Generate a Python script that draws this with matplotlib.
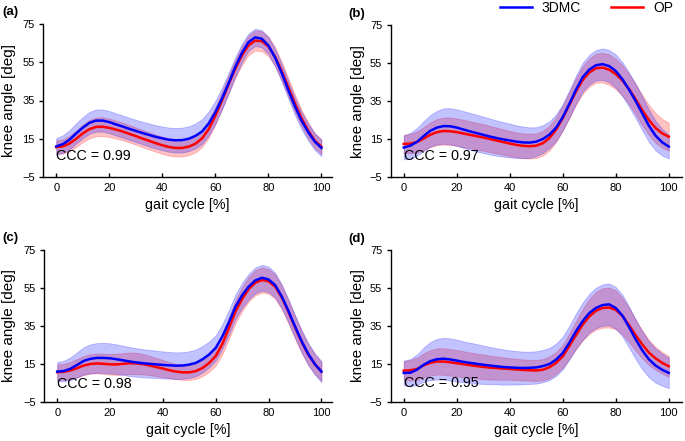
import numpy as np
import matplotlib
matplotlib.use("Agg")
import matplotlib.pyplot as plt

plt.rcParams['font.family'] = ['Liberation Sans', 'DejaVu Sans']

# gait cycle grid [%]
gait = [0, 2.5, 5, 7.5, 10, 12.5, 15, 17.5, 20, 22.5, 25, 27.5, 30, 32.5, 35, 37.5,
        40, 42.5, 45, 47.5, 50, 52.5, 55, 57.5, 60, 62.5, 65, 67.5, 70, 72.5, 75,
        77.5, 80, 82.5, 85, 87.5, 90, 92.5, 95, 97.5, 100]

panel_labels = ["(a)", "(b)", "(c)", "(d)"]
ccc_values = ["0.99", "0.97", "0.98", "0.95"]
series_names = ["3DMC", "OP"]
y_ticks = [-5, 15, 35, 55, 75]
x_ticks = [0, 20, 40, 60, 80, 100]

# (a)
a_3dmc = [11.0, 12.2, 14.5, 17.8, 20.8, 23.3, 24.5, 24.5, 23.7, 22.5, 21.4, 20.2, 19.1, 18.0, 17.0, 16.0,
          15.2, 14.5, 14.2, 14.3, 15.0, 16.5, 18.8, 23.0, 28.8, 36.0, 44.0, 52.5, 59.8, 65.5, 68.0,
          67.3, 63.8, 57.5, 49.5, 40.5, 32.0, 24.5, 18.5, 13.5, 10.2]
a_op = [10.6, 11.0, 12.5, 15.0, 17.8, 20.0, 21.2, 21.3, 20.7, 19.8, 18.8, 17.6, 16.4, 15.1, 13.9, 12.7,
        11.6, 10.7, 10.2, 10.2, 10.9, 12.4, 15.2, 20.0, 27.0, 35.0, 43.5, 51.5, 58.5, 63.8, 66.3,
        66.0, 63.3, 58.0, 50.5, 42.0, 33.5, 25.8, 19.3, 14.0, 10.8]
a_3dmc_sd = [4.3, 4.6, 5.0, 5.3, 5.5, 5.7, 5.8, 5.8, 5.8, 5.8, 5.8, 5.8, 5.8, 5.9, 6.0, 6.1,
             6.2, 6.3, 6.4, 6.5, 6.5, 6.5, 6.5, 6.3, 6.0, 5.7, 5.4, 5.1, 4.8, 4.6, 4.5,
             4.5, 4.5, 4.5, 4.5, 4.5, 4.5, 4.5, 4.5, 4.4, 4.3]
a_op_sd = [3.5, 3.7, 4.0, 4.3, 4.6, 4.8, 4.9, 4.9, 4.8, 4.7, 4.6, 4.5, 4.5, 4.5, 4.5, 4.5,
           4.5, 4.5, 4.5, 4.5, 4.5, 4.5, 4.5, 4.5, 4.5, 4.6, 4.7, 4.8, 5.0, 5.1, 5.2,
           5.2, 5.1, 5.0, 4.9, 4.7, 4.5, 4.3, 4.1, 3.9, 3.8]

# (b)
b_3dmc = [10.5, 11.5, 13.5, 16.5, 19.3, 21.0, 21.8, 21.7, 21.0, 20.0, 19.0, 18.1, 17.2, 16.3, 15.5, 14.8,
          14.2, 13.6, 13.2, 13.1, 13.6, 15.0, 17.3, 21.0, 26.5, 33.5, 41.0, 47.5, 51.5, 53.8, 54.4,
          53.4, 50.8, 46.5, 41.0, 35.0, 28.5, 22.0, 16.8, 13.3, 11.0]
b_op = [12.4, 12.6, 13.4, 15.2, 17.2, 18.6, 19.2, 19.1, 18.6, 17.9, 17.2, 16.5, 15.8, 15.0, 14.2, 13.4,
        12.6, 11.9, 11.4, 11.2, 11.5, 12.8, 15.5, 20.0, 26.0, 33.0, 40.0, 46.0, 50.0, 52.2, 52.6,
        51.5, 49.2, 45.8, 41.3, 36.0, 30.2, 25.0, 20.8, 18.0, 16.2]
b_3dmc_sd = [6.3, 6.8, 7.3, 7.8, 8.3, 8.8, 9.3, 9.5, 9.6, 9.7, 9.7, 9.7, 9.6, 9.5, 9.3, 9.1,
             8.9, 8.6, 8.3, 8.0, 7.6, 7.3, 7.0, 7.0, 7.0, 7.2, 7.4, 7.6, 7.8, 8.0, 8.3,
             8.5, 8.7, 8.9, 9.0, 9.0, 8.9, 8.5, 7.8, 7.0, 6.3]
b_op_sd = [4.8, 5.1, 5.5, 6.0, 6.5, 6.9, 7.1, 7.2, 7.2, 7.2, 7.1, 7.0, 7.0, 6.9, 6.8, 6.7,
           6.6, 6.5, 6.5, 6.5, 6.5, 6.5, 6.5, 6.5, 6.6, 6.8, 7.0, 7.2, 7.4, 7.6, 7.8,
           8.0, 8.0, 8.0, 8.0, 8.0, 8.0, 7.9, 7.8, 7.6, 7.4]

# (c)
c_3dmc = [11.0, 11.3, 12.5, 14.5, 16.6, 17.7, 18.2, 18.2, 18.0, 17.5, 16.9, 16.3, 15.8, 15.4, 15.1, 14.8,
          14.5, 14.3, 14.1, 14.2, 14.7, 15.6, 17.5, 20.0, 23.5, 29.5, 37.0, 45.2, 51.2, 55.8, 59.0,
          60.4, 59.5, 56.5, 50.5, 43.0, 34.8, 27.0, 20.3, 15.0, 11.0]
c_op = [10.7, 10.9, 11.6, 12.8, 14.2, 15.0, 15.3, 15.1, 14.8, 14.8, 15.1, 15.4, 15.3, 14.9, 14.2, 13.4,
        12.6, 11.7, 11.0, 10.6, 10.6, 11.3, 12.9, 15.5, 19.2, 25.5, 34.0, 42.7, 49.2, 54.5, 57.8,
        59.2, 58.5, 55.7, 50.0, 42.5, 34.3, 26.6, 20.0, 14.9, 11.0]
c_3dmc_sd = [5.0, 5.4, 6.0, 6.6, 7.2, 7.6, 7.8, 7.9, 7.9, 7.8, 7.7, 7.6, 7.5, 7.4, 7.3, 7.2,
             7.1, 7.0, 7.0, 7.0, 7.0, 7.0, 7.0, 6.8, 6.6, 6.5, 6.5, 6.5, 6.6, 6.7, 6.8,
             6.8, 6.7, 6.5, 6.3, 6.1, 6.0, 5.9, 5.8, 5.6, 5.5]
c_op_sd = [4.0, 4.2, 4.5, 4.8, 5.0, 5.1, 5.2, 5.3, 5.4, 5.5, 5.6, 5.7, 5.6, 5.4, 5.1, 4.8,
           4.5, 4.2, 4.0, 4.0, 4.0, 4.1, 4.3, 4.6, 5.0, 5.4, 5.8, 6.1, 6.3, 6.5, 6.6,
           6.6, 6.5, 6.4, 6.2, 6.1, 6.0, 5.7, 5.4, 5.2, 5.0]

# (d)
d_3dmc = [10.3, 10.4, 12.0, 14.6, 16.5, 17.5, 17.8, 17.4, 16.8, 16.1, 15.6, 15.1, 14.6, 14.2, 13.8, 13.4,
          13.2, 13.0, 12.9, 13.0, 13.2, 13.9, 15.0, 17.3, 20.8, 26.2, 32.3, 37.5, 41.8, 44.5, 46.0,
          46.4, 44.5, 40.5, 34.5, 28.0, 22.2, 17.5, 14.2, 12.0, 10.3]
d_op = [11.5, 11.7, 12.4, 14.3, 15.6, 16.3, 16.3, 15.9, 15.4, 14.9, 14.4, 13.9, 13.5, 13.1, 12.9, 12.6,
        12.4, 12.1, 11.9, 11.7, 11.6, 12.0, 13.3, 15.6, 19.0, 24.5, 30.2, 35.7, 40.0, 43.0, 44.5,
        44.7, 43.5, 40.3, 35.5, 30.2, 25.3, 21.0, 18.0, 15.6, 13.8]
d_3dmc_sd = [6.5, 7.2, 8.0, 9.0, 10.0, 10.7, 11.0, 11.1, 11.0, 10.8, 10.6, 10.4, 10.1, 9.8, 9.5, 9.3,
             9.0, 8.8, 8.6, 8.5, 8.5, 8.5, 8.5, 8.5, 8.6, 8.9, 9.3, 9.8, 10.2, 10.6, 10.9,
             11.0, 11.0, 11.0, 10.8, 10.4, 10.0, 9.5, 9.0, 8.5, 8.0]
d_op_sd = [5.0, 5.4, 5.9, 6.3, 6.7, 6.9, 7.0, 7.0, 6.9, 6.8, 6.7, 6.6, 6.5, 6.3, 6.1, 5.9,
           5.7, 5.6, 5.5, 5.5, 5.5, 5.6, 5.7, 5.8, 6.0, 6.6, 7.4, 8.3, 9.2, 9.9, 10.4,
           10.5, 10.2, 9.6, 9.0, 8.2, 7.4, 6.6, 6.0, 5.7, 5.5]

panels = [
    (a_3dmc, a_3dmc_sd, a_op, a_op_sd),
    (b_3dmc, b_3dmc_sd, b_op, b_op_sd),
    (c_3dmc, c_3dmc_sd, c_op, c_op_sd),
    (d_3dmc, d_3dmc_sd, d_op, d_op_sd),
]

W, H = 685, 441
fig = plt.figure(figsize=(W / 100, H / 100), dpi=100)

# axes boxes in pixels: left, right, top, bottom
boxes = [(43, 332, 24, 177), (390.5, 682, 25, 177), (44, 332, 250, 402), (390.5, 682, 250, 402)]
xlims = [(-5, 104), (-5, 105), (-5, 104), (-5, 105)]
ccc_y = [6.0, 6.0, 4.6, 4.8]
ylabel_px = [16, 365, 16, 365]   # right edge of the rotated y label
label_pos = [(2, 12), (348, 14), (2, 238), (348, 239)]

blue = '#0000ff'
red = '#ff0000'
x = np.array(gait)

handles = []
for i, (box, (m1, s1, m2, s2)) in enumerate(zip(boxes, panels)):
    l, r, t, b = box
    ax = fig.add_axes([l / W, 1 - b / H, (r - l) / W, (b - t) / H])
    m1, s1, m2, s2 = map(np.array, (m1, s1, m2, s2))
    ax.fill_between(x, m2 - s2, m2 + s2, color=red, alpha=0.24, lw=0.6, edgecolor=(1, 0, 0, 0.25))
    ax.fill_between(x, m1 - s1, m1 + s1, color=blue, alpha=0.24, lw=0.6, edgecolor=(0, 0, 1, 0.25))
    l2, = ax.plot(x, m2, color=red, lw=1.8, zorder=3)
    l1, = ax.plot(x, m1, color=blue, lw=1.8, zorder=4)
    if i == 0:
        handles = [l1, l2]
    ax.set_xlim(*xlims[i])
    ax.set_ylim(-5, 75)
    ax.set_xticks(x_ticks)
    ax.set_yticks(y_ticks)
    for sp in ['top', 'right']:
        ax.spines[sp].set_visible(False)
    for sp in ['left', 'bottom']:
        ax.spines[sp].set_linewidth(1.0)
    ax.tick_params(axis='y', direction='out', length=3, width=1.0, labelsize=8, pad=3)
    ax.tick_params(axis='x', direction='in', length=3, width=1.0, labelsize=8, pad=4)
    ax.set_xlabel('gait cycle [%]', fontsize=10.3, labelpad=4)
    ax.set_ylabel('knee angle [deg]', fontsize=11)
    ax.yaxis.set_label_coords((ylabel_px[i] - l) / (r - l), 0.5)
    ax.text(0, ccc_y[i], 'CCC = ' + ccc_values[i], fontsize=10.3, ha='left', va='center', zorder=5)
    fig.text(label_pos[i][0] / W, 1 - label_pos[i][1] / H, panel_labels[i],
             fontsize=9.5, fontweight='bold', ha='left', va='center')

fig.legend(handles, series_names, loc='center left', bbox_to_anchor=(500 / W, 1 - 8 / H),
           ncol=2, frameon=False, fontsize=10, handlelength=2.3, handletextpad=0.7,
           columnspacing=2.2, borderpad=0, borderaxespad=0)

fig.savefig('out.png', dpi=100)
